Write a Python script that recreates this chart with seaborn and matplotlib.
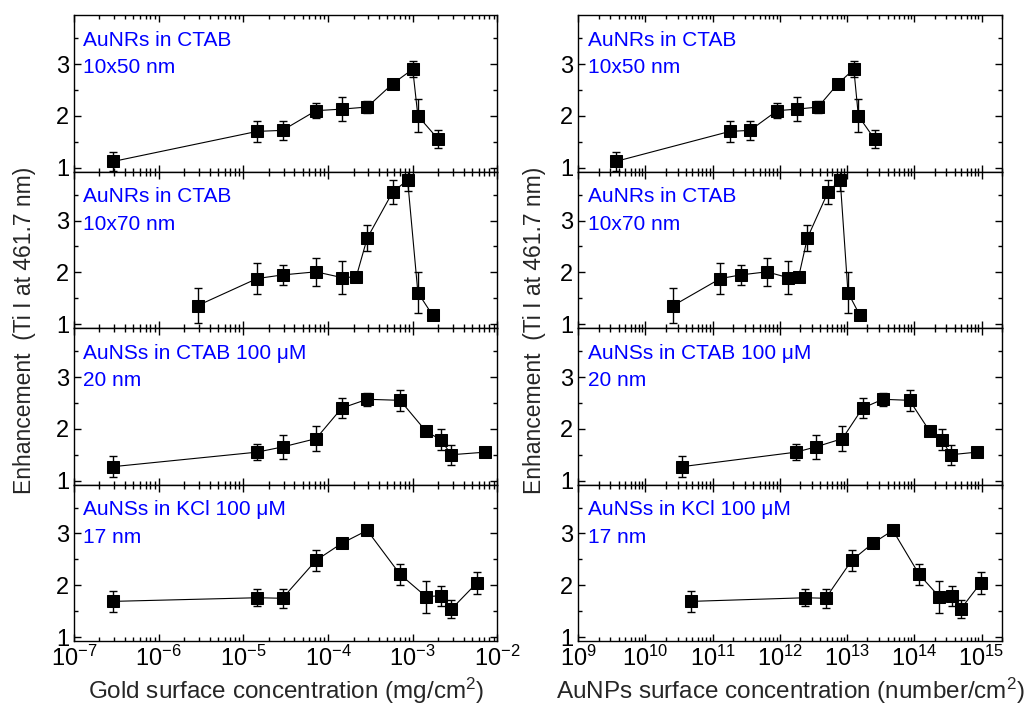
import pandas as pd
import seaborn as sns
import matplotlib.pyplot as plt
from matplotlib.ticker import MultipleLocator, LogLocator, NullFormatter

# panel labels (two text lines each)
labels_top = ["AuNRs in CTAB", "AuNRs in CTAB", "AuNSs in CTAB 100 \u03bcM", "AuNSs in KCl 100 \u03bcM"]
labels_bottom = ["10x50 nm", "10x70 nm", "20 nm", "17 nm"]

# enhancement values and error bars (shared by both columns)
enh_nr50 = [1.12, 1.70, 1.72, 2.10, 2.13, 2.17, 2.62, 2.90, 2.00, 1.55]
err_nr50 = [0.19, 0.20, 0.19, 0.15, 0.23, 0.12, 0.05, 0.15, 0.32, 0.17]
enh_nr70 = [1.36, 1.88, 1.95, 2.01, 1.90, 1.91, 2.66, 3.55, 3.78, 1.61, 1.17]
err_nr70 = [0.33, 0.30, 0.20, 0.27, 0.32, 0.05, 0.25, 0.23, 0.21, 0.39, 0.03]
enh_ns20 = [1.27, 1.55, 1.65, 1.81, 2.40, 2.57, 2.55, 1.95, 1.79, 1.50, 1.55]
err_ns20 = [0.20, 0.16, 0.23, 0.24, 0.19, 0.13, 0.20, 0.04, 0.20, 0.19, 0.03]
enh_ns17 = [1.69, 1.76, 1.75, 2.48, 2.81, 3.06, 2.21, 1.78, 1.80, 1.54, 2.05]
err_ns17 = [0.20, 0.16, 0.18, 0.20, 0.03, 0.03, 0.20, 0.31, 0.19, 0.18, 0.21]

# gold surface concentration (mg/cm2)
gold_nr50 = [2.9e-7, 1.45e-5, 2.9e-5, 7.2e-5, 1.45e-4, 2.9e-4, 5.8e-4, 1.0e-3, 1.15e-3, 2.0e-3]
gold_nr70 = [2.9e-6, 1.45e-5, 2.9e-5, 7.2e-5, 1.45e-4, 2.15e-4, 2.9e-4, 5.8e-4, 8.7e-4, 1.15e-3, 1.72e-3]
gold_ns20 = [2.9e-7, 1.45e-5, 2.9e-5, 7.2e-5, 1.45e-4, 2.9e-4, 7.1e-4, 1.44e-3, 2.14e-3, 2.86e-3, 7.2e-3]
gold_ns17 = [2.9e-7, 1.45e-5, 2.9e-5, 7.2e-5, 1.45e-4, 2.9e-4, 7.1e-4, 1.44e-3, 2.14e-3, 2.86e-3, 5.75e-3]

# AuNPs surface concentration (number/cm2)
num_nr50 = [3.6e9, 1.8e11, 3.6e11, 9.1e11, 1.8e12, 3.7e12, 7.3e12, 1.26e13, 1.47e13, 2.57e13]
num_nr70 = [2.6e10, 1.3e11, 2.6e11, 6.4e11, 1.3e12, 1.9e12, 2.56e12, 5.2e12, 7.9e12, 1.03e13, 1.55e13]
num_ns20 = [3.5e10, 1.74e12, 3.4e12, 8.5e12, 1.7e13, 3.4e13, 8.5e13, 1.7e14, 2.55e14, 3.5e14, 8.5e14]
num_ns17 = [4.8e10, 2.4e12, 4.8e12, 1.17e13, 2.4e13, 4.8e13, 1.18e14, 2.35e14, 3.6e14, 4.9e14, 9.8e14]

enh = [enh_nr50, enh_nr70, enh_ns20, enh_ns17]
err = [err_nr50, err_nr70, err_ns20, err_ns17]
gold = [gold_nr50, gold_nr70, gold_ns20, gold_ns17]
num = [num_nr50, num_nr70, num_ns20, num_ns17]

sns.set_style("ticks")
plt.rcParams['font.family'] = ['Liberation Sans', 'DejaVu Sans']
plt.rcParams['mathtext.fontset'] = 'custom'
plt.rcParams['mathtext.rm'] = 'Liberation Sans'
plt.rcParams['mathtext.it'] = 'Liberation Sans'
plt.rcParams['mathtext.default'] = 'regular'

fig = plt.figure(figsize=(10.29, 7.13), dpi=100)

col_left = [0.0719, 0.5620]
col_width = 0.4115
bottom = 0.1006
height = (0.9785 - 0.1006) / 4

columns = [
    (gold, (1e-7, 1e-2), "Gold surface concentration (mg/cm$^2$)"),
    (num, (1e9, 2e15), "AuNPs surface concentration (number/cm$^2$)"),
]

for c, (xs, xlim, xlabel) in enumerate(columns):
    for i in range(4):
        ax = fig.add_axes([col_left[c], bottom + (3 - i) * height, col_width, height])
        df = pd.DataFrame({"x": xs[i], "y": enh[i], "err": err[i]})
        ax.errorbar(df["x"], df["y"], yerr=df["err"], fmt="none", ecolor="black",
                    elinewidth=1, capsize=3.2, capthick=1, zorder=2)
        sns.lineplot(data=df, x="x", y="y", ax=ax, color="black", linewidth=0.8,
                     marker="s", markersize=8, markeredgecolor="black", zorder=3)
        ax.set_xscale("log")
        ax.set_xlim(*xlim)
        ax.set_ylim(0.92, 3.94)
        ax.yaxis.set_major_locator(MultipleLocator(1))
        ax.yaxis.set_minor_locator(MultipleLocator(0.5))
        ax.xaxis.set_major_locator(LogLocator(base=10, numticks=20))
        ax.xaxis.set_minor_locator(LogLocator(base=10, subs=range(2, 10), numticks=20))
        ax.xaxis.set_minor_formatter(NullFormatter())
        ax.tick_params(which="both", direction="in", top=True, right=True,
                       labelsize=17, width=1, colors="black")
        ax.tick_params(which="major", length=5)
        ax.tick_params(which="minor", length=3)
        for s in ax.spines.values():
            s.set_linewidth(1)
            s.set_color("black")
        ax.set_ylabel("")
        if i < 3:
            ax.set_xlabel("")
            ax.tick_params(axis="x", labelbottom=False)
        else:
            ax.set_xlabel(xlabel, fontsize=17.5, labelpad=3)
        ax.text(0.022, 0.806, labels_top[i], transform=ax.transAxes, color="blue",
                fontsize=15, va="baseline", ha="left")
        ax.text(0.022, 0.631, labels_bottom[i], transform=ax.transAxes, color="blue",
                fontsize=15, va="baseline", ha="left")

for xpos in [25 / 1029, 534 / 1029]:
    fig.text(xpos, 1 - 330 / 713, "Enhancement  (Ti I at 461.7 nm)", rotation=90,
             fontsize=16.5, ha="center", va="center")

fig.savefig("out.png", dpi=100)
